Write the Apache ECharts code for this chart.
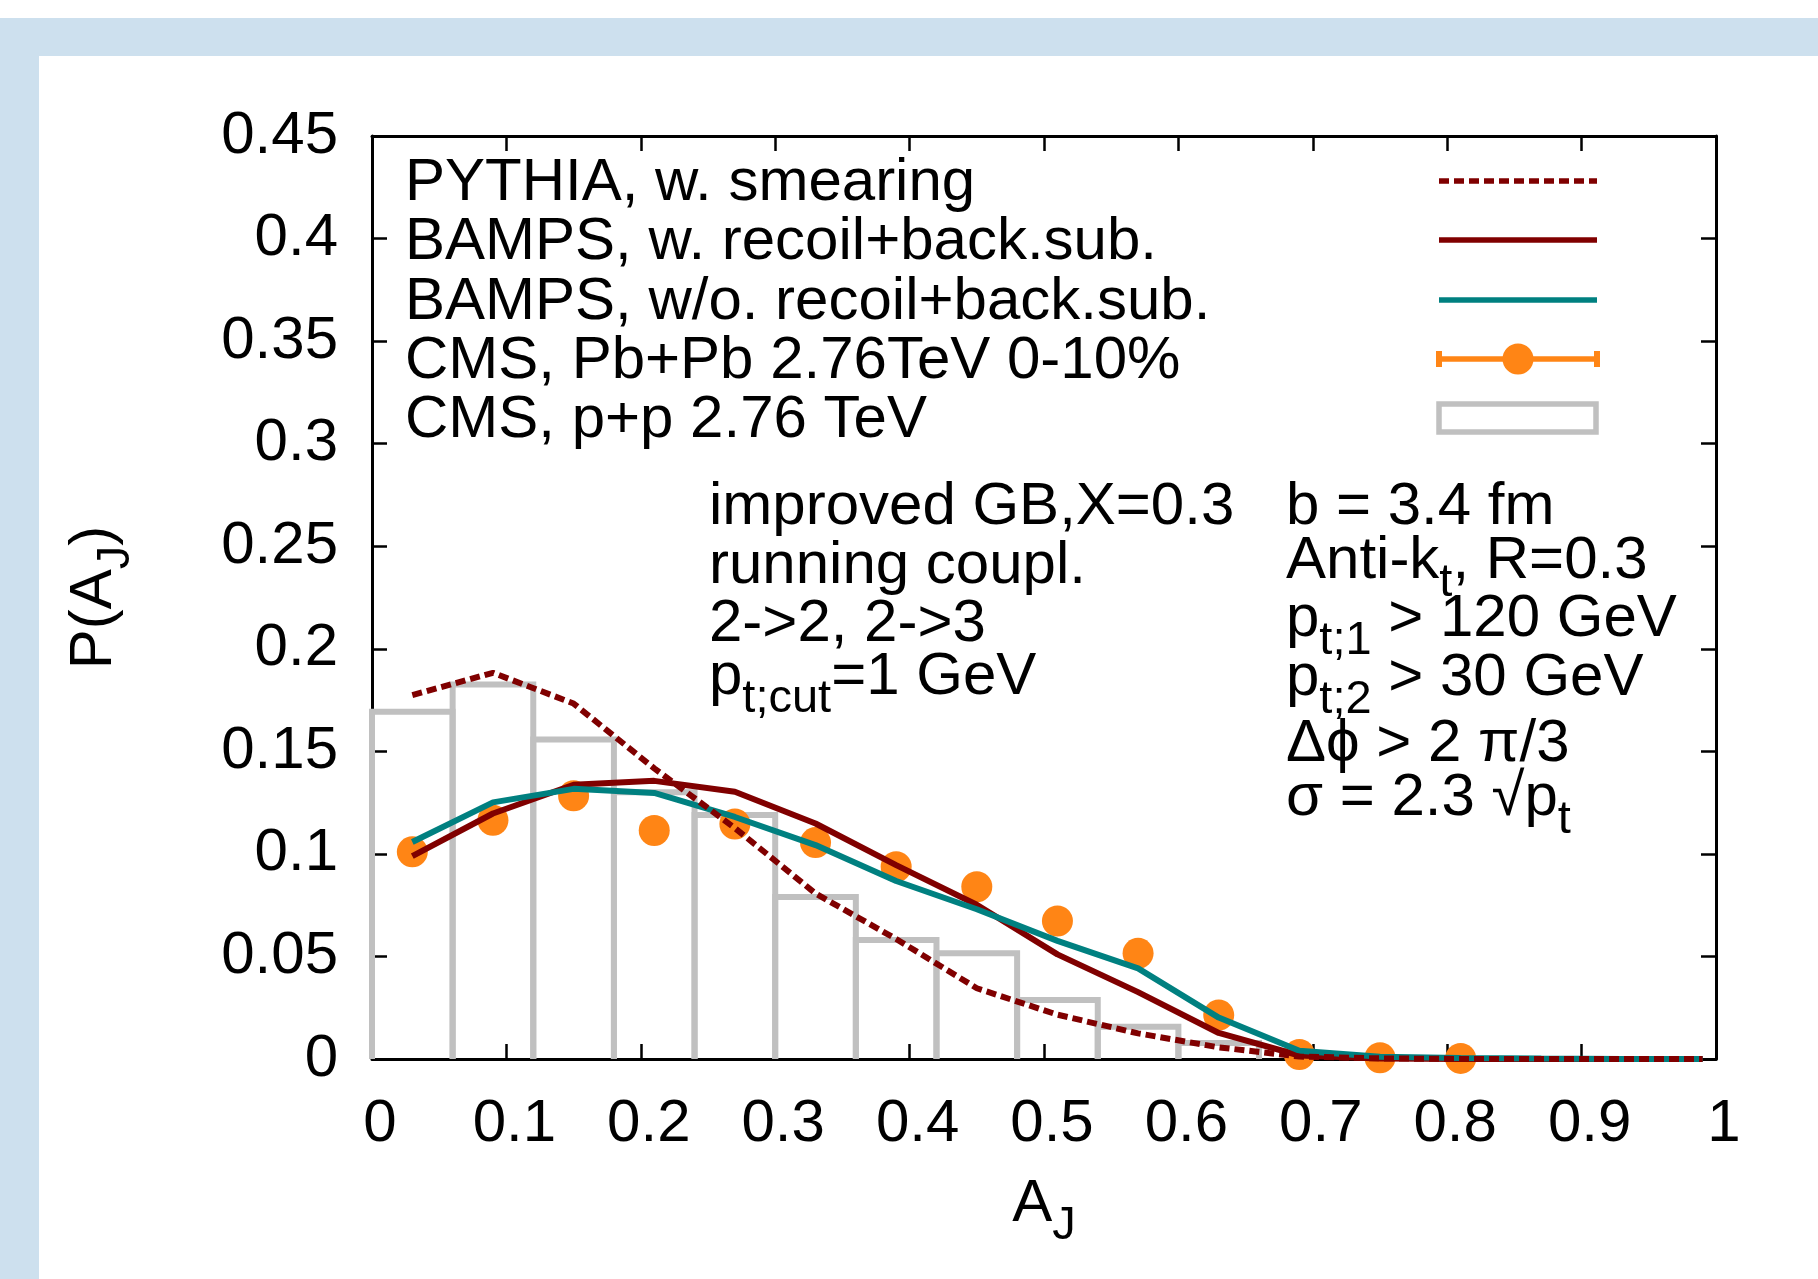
<!DOCTYPE html>
<html>
<head>
<meta charset="utf-8">
<script src="https://cdn.jsdelivr.net/npm/echarts@6/dist/echarts.min.js"></script>
<style>
html,body{margin:0;padding:0;background:#fff;}
#chart{width:1818px;height:1279px;}
</style>
</head>
<body>
<div id="chart"></div>
<script>
// ---------------- data ----------------
const binWidth = 0.06;
const modelX = [0.03,0.09,0.15,0.21,0.27,0.33,0.39,0.45,0.51,0.57,0.63,0.69,0.75,0.81,0.87,0.93,0.99];
const pythiaSmearing = [0.1774,0.1883,0.1733,0.1417,0.1126,0.0807,0.0585,0.0345,0.0216,0.0125,0.0057,0.0012,0.0003,0,0,0,0];
const bampsRecoil    = [0.0989,0.1197,0.1337,0.1356,0.1303,0.1148,0.0945,0.0752,0.0510,0.0326,0.0127,0.0017,0.0003,0,0,0,0];
const bampsNoRecoil  = [0.1058,0.1251,0.1317,0.1297,0.1180,0.1043,0.0868,0.0730,0.0576,0.0442,0.0202,0.0040,0.0011,0.0005,0.0002,0,0];
const cmsPbPbX = [0.03,0.09,0.15,0.21,0.27,0.33,0.39,0.45,0.51,0.57,0.63,0.69,0.75,0.81];
const cmsPbPb  = [0.1010,0.1164,0.1283,0.1114,0.1146,0.1055,0.0937,0.0840,0.0673,0.0515,0.0214,0.0022,0.0006,0.0003];
const cmsPPX = [0.03,0.09,0.15,0.21,0.27,0.33,0.39,0.45,0.51,0.57,0.63];
const cmsPP  = [0.1693,0.1826,0.1558,0.1300,0.1190,0.0790,0.0580,0.0516,0.0288,0.0157,0.0078];
const legendLabels = [
  ['PYTHIA, w. smearing'],
  ['BAMPS, w. recoil+back.sub.'],
  ['BAMPS, w/o. recoil+back.sub.'],
  ['CMS, Pb+Pb 2.76TeV 0-10%'],
  ['CMS, p+p 2.76 TeV']
];
const notesLeft = [
  ['improved GB,X=0.3'],
  ['running coupl.'],
  ['2->2, 2->3'],
  ['p','_t;cut','=1 GeV']
];
const notesRight = [
  ['b = 3.4 fm'],
  ['Anti-k','_t',', R=0.3'],
  ['p','_t;1',' > 120 GeV'],
  ['p','_t;2',' > 30 GeV'],
  ['\u0394\u03D5 > 2 \u03C0/3'],
  ['\u03C3 = 2.3 \u221Ap','_t']
];

// ---------------- style ----------------
const FONT = '"Liberation Sans", Arial, Helvetica, sans-serif';
const FS = 60, SFS = 47;
const RICH = {
  m: {fontFamily: FONT, fontSize: FS, lineHeight: FS, verticalAlign: 'top', color: '#000'},
  s: {fontFamily: FONT, fontSize: SFS, lineHeight: SFS, verticalAlign: 'top', padding: [29,0,0,0], color: '#000'}
};
function rt(parts) {
  return parts.map(p => p.charAt(0) === '_' ? '{s|' + p.slice(1) + '}' : '{m|' + p + '}').join('');
}
function txt(left, top, parts) {
  return {left: left, top: top, padding: 0, text: rt(parts), z: 20,
          textStyle: {fontFamily: FONT, fontSize: FS, fontWeight: 'normal', color: '#000', rich: RICH}};
}

const C_DRED = '#800000', C_TEAL = '#008080', C_ORANGE = '#ff8515', C_GREY = '#c0c0c0';

const titles = [];
const legTops = [153, 212, 272, 331, 390];
legendLabels.forEach((l, i) => titles.push(txt(405, legTops[i], l)));
const leftTops = [477, 536, 594, 647];
notesLeft.forEach((l, i) => titles.push(txt(709, leftTops[i], l)));
const rightTops = [477, 531, 589, 648, 714, 768];
notesRight.forEach((l, i) => titles.push(txt(1286, rightTops[i], l)));

function axisCommon() {
  return {
    axisLine: {show: true, onZero: false, lineStyle: {color: '#000', width: 3}},
    axisTick: {show: true, inside: true, length: 15, lineStyle: {color: '#000', width: 2.5}},
    splitLine: {show: false}
  };
}

const graphics = [
  {type: 'rect', shape: {x: 0, y: 18, width: 1818, height: 38}, style: {fill: '#cde0ee'}, silent: true},
  {type: 'rect', shape: {x: 0, y: 18, width: 39, height: 1261}, style: {fill: '#cde0ee'}, silent: true},
  // legend keys
  {type: 'line', shape: {x1: 1439, y1: 181, x2: 1597, y2: 181}, style: {stroke: C_DRED, lineWidth: 5.5, lineDash: [10, 5]}, z: 20},
  {type: 'line', shape: {x1: 1439, y1: 240, x2: 1597, y2: 240}, style: {stroke: C_DRED, lineWidth: 5.5}, z: 20},
  {type: 'line', shape: {x1: 1439, y1: 300, x2: 1597, y2: 300}, style: {stroke: C_TEAL, lineWidth: 5.5}, z: 20},
  {type: 'line', shape: {x1: 1439, y1: 359, x2: 1597, y2: 359}, style: {stroke: C_ORANGE, lineWidth: 5.5}, z: 20},
  {type: 'line', shape: {x1: 1439, y1: 351, x2: 1439, y2: 367}, style: {stroke: C_ORANGE, lineWidth: 6}, z: 20},
  {type: 'line', shape: {x1: 1597, y1: 351, x2: 1597, y2: 367}, style: {stroke: C_ORANGE, lineWidth: 6}, z: 20},
  {type: 'circle', shape: {cx: 1518, cy: 359, r: 15.5}, style: {fill: C_ORANGE}, z: 21},
  {type: 'rect', shape: {x: 1439, y: 404, width: 157, height: 28}, style: {fill: 'none', stroke: C_GREY, lineWidth: 5.5}, z: 20}
];

const chart = echarts.init(document.getElementById('chart'), null, {renderer: 'canvas'});
chart.setOption({
  animation: false,
  backgroundColor: '#fff',
  title: titles,
  graphic: graphics,
  grid: {left: 372, right: 102, top: 136, bottom: 220, containLabel: false},
  xAxis: [
    Object.assign(axisCommon(), {
      type: 'value', min: 0, max: 1, interval: 0.1, position: 'bottom',
      name: rt(['A', '_J']), nameLocation: 'middle', nameGap: 115,
      nameTextStyle: {fontFamily: FONT, fontSize: FS, color: '#000', rich: RICH},
      axisLabel: {show: true, fontFamily: FONT, fontSize: FS, color: '#000', margin: 35, padding: [0, 0, 0, 16]}
    }),
    Object.assign(axisCommon(), {
      type: 'value', min: 0, max: 1, interval: 0.1, position: 'top',
      axisLabel: {show: false}
    })
  ],
  yAxis: [
    Object.assign(axisCommon(), {
      type: 'value', min: 0, max: 0.45, interval: 0.05, position: 'left',
      name: rt(['P(A', '_J', ')']), nameLocation: 'middle', nameRotate: 90, nameGap: 248,
      nameTextStyle: {fontFamily: FONT, fontSize: FS, color: '#000', rich: RICH},
      axisLabel: {show: true, fontFamily: FONT, fontSize: FS, color: '#000', margin: 34}
    }),
    Object.assign(axisCommon(), {
      type: 'value', min: 0, max: 0.45, interval: 0.05, position: 'right',
      axisLabel: {show: false}
    })
  ],
  series: [
    {
      name: 'CMS, p+p 2.76 TeV', type: 'custom',
      data: cmsPPX.map((x, i) => [x, cmsPP[i]]),
      renderItem: function (params, api) {
        const xc = api.value(0), v = api.value(1);
        const p0 = api.coord([xc - binWidth / 2, 0]);
        const p1 = api.coord([xc + binWidth / 2, v]);
        return {
          type: 'polyline',
          shape: {points: [[p0[0], p0[1]], [p0[0], p1[1]], [p1[0], p1[1]], [p1[0], p0[1]]]},
          style: {fill: 'none', stroke: C_GREY, lineWidth: 6}
        };
      },
      z: 1
    },
    {
      name: 'CMS, Pb+Pb 2.76TeV 0-10%', type: 'scatter',
      data: cmsPbPbX.map((x, i) => [x, cmsPbPb[i]]),
      symbol: 'circle', symbolSize: 31, itemStyle: {color: C_ORANGE, opacity: 1}, clip: false, z: 2
    },
    {
      name: 'BAMPS, w. recoil+back.sub.', type: 'line',
      data: modelX.map((x, i) => [x, bampsRecoil[i]]),
      showSymbol: false, symbol: 'none', lineStyle: {color: C_DRED, width: 6}, z: 3
    },
    {
      name: 'BAMPS, w/o. recoil+back.sub.', type: 'line',
      data: modelX.map((x, i) => [x, bampsNoRecoil[i]]),
      showSymbol: false, symbol: 'none', lineStyle: {color: C_TEAL, width: 6}, z: 4
    },
    {
      name: 'PYTHIA, w. smearing', type: 'line',
      data: modelX.map((x, i) => [x, pythiaSmearing[i]]),
      showSymbol: false, symbol: 'none', lineStyle: {color: C_DRED, width: 6, type: [10, 5]}, z: 5
    }
  ]
});
</script>
</body>
</html>
